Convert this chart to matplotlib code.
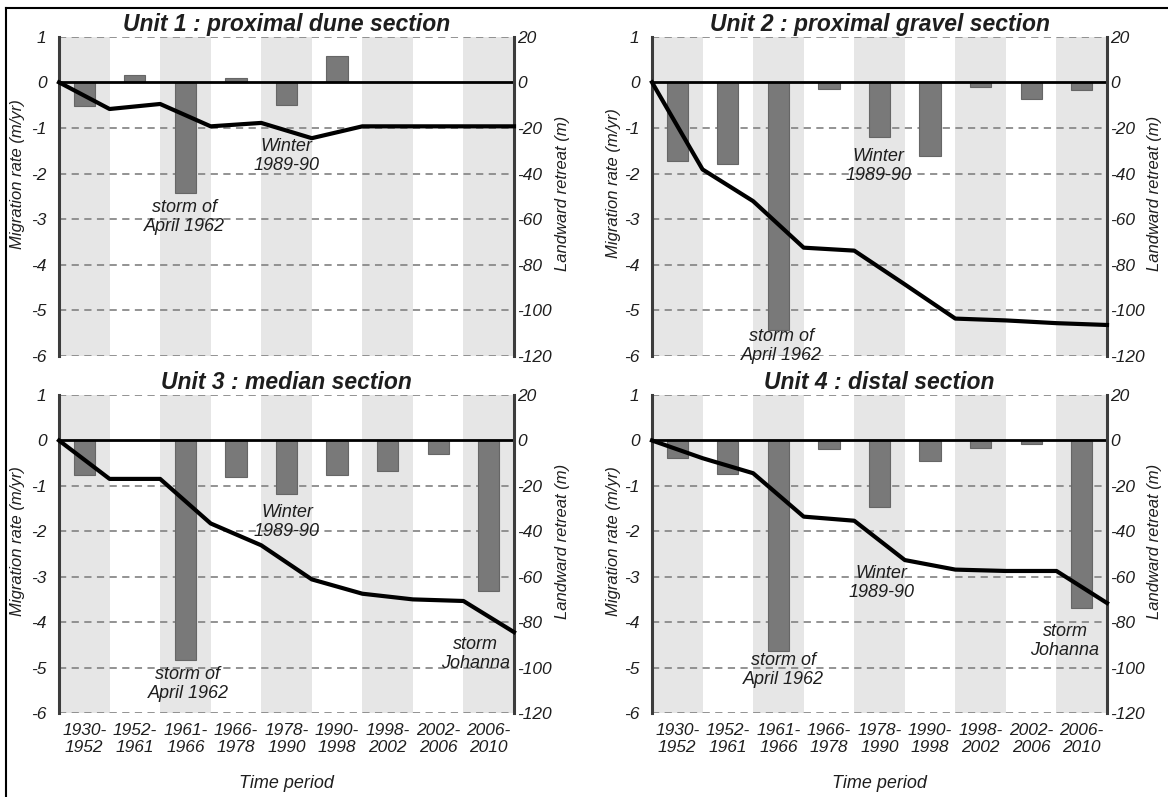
import matplotlib
matplotlib.use("Agg")
import matplotlib.pyplot as plt
from matplotlib.lines import Line2D
import numpy as np

plt.rcParams['font.family'] = ['Liberation Sans', 'DejaVu Sans']

periods = ["1930-\n1952", "1952-\n1961", "1961-\n1966", "1966-\n1978", "1978-\n1990",
           "1990-\n1998", "1998-\n2002", "2002-\n2006", "2006-\n2010"]

titles = ["Unit 1 : proximal dune section", "Unit 2 : proximal gravel section",
          "Unit 3 : median section", "Unit 4 : distal section"]

# Migration rate (m/yr) per period
rate_u1 = [-0.53, 0.17, -2.42, 0.09, -0.50, 0.58, 0.0, 0.0, 0.0]
rate_u2 = [-1.72, -1.80, -5.42, -0.14, -1.20, -1.62, -0.10, -0.36, -0.17]
rate_u3 = [-0.77, 0.0, -4.83, -0.81, -1.18, -0.77, -0.67, -0.29, -3.31]
rate_u4 = [-0.39, -0.74, -4.63, -0.19, -1.46, -0.45, -0.17, -0.07, -3.68]

# Cumulative landward retreat (m) at period boundaries
retreat_u1 = [0, -11.7, -9.5, -19.3, -17.8, -24.5, -19.3, -19.3, -19.3, -19.3]
retreat_u2 = [0, -38.2, -52.1, -72.5, -73.8, -88.6, -103.6, -104.4, -105.6, -106.4]
retreat_u3 = [0, -16.9, -16.9, -36.5, -46.1, -61.1, -67.4, -69.9, -70.6, -84.3]
retreat_u4 = [0, -7.8, -14.4, -33.5, -35.3, -52.6, -56.8, -57.4, -57.4, -71.5]

rates = [rate_u1, rate_u2, rate_u3, rate_u4]
retreats = [retreat_u1, retreat_u2, retreat_u3, retreat_u4]

left_ticks = [1, 0, -1, -2, -3, -4, -5, -6]
right_ticks = [20, 0, -20, -40, -60, -80, -100, -120]

# annotations: (text, x, y) in (category units, migration-rate units)
annots = [
    [("storm of\nApril 1962", 2.48, -2.96), ("Winter\n1989-90", 4.5, -1.62)],
    [("storm of\nApril 1962", 2.56, -5.78), ("Winter\n1989-90", 4.48, -1.84)],
    [("storm of\nApril 1962", 2.55, -5.35), ("Winter\n1989-90", 4.51, -1.79),
     ("storm\nJohanna", 8.23, -4.69)],
    [("storm of\nApril 1962", 2.6, -5.05), ("Winter\n1989-90", 4.54, -3.13),
     ("storm\nJohanna", 8.17, -4.40)],
]

W, H = 1168, 797
fig = plt.figure(figsize=(W / 100, H / 100), dpi=100)

# axes rectangles in pixels (left, top, right, bottom)
rects = [(59, 36.7, 514, 356), (652, 36.7, 1107, 356),
         (59, 395, 514, 713.3), (652, 395, 1107, 713.3)]
left_label_y = [0.57, 0.54, 0.54, 0.54]
right_label_y = [0.51, 0.51, 0.54, 0.54]
left_label_x = [-0.075, -0.068, -0.075, -0.068]
right_label_x = [1.09, 1.087, 1.09, 1.087]

fs = 12.5
band_color = "#e6e6e6"
bar_color = "#797979"
grid_color = "#8a8a8a"
spine_color = "#3c3c3c"
text_color = "#1e1e1e"

n = len(periods)
for k in range(4):
    l, t, r, b = rects[k]
    ax = fig.add_axes([l / W, 1 - b / H, (r - l) / W, (b - t) / H])
    ax.set_xlim(0, n)
    ax.set_ylim(-6, 1)
    ax.patch.set_alpha(0)
    for i in range(0, n, 2):
        ax.axvspan(i, i + 1, color=band_color, lw=0, zorder=0)
    for v in left_ticks:
        if v != 0:
            ax.axhline(v, color=grid_color, lw=1.3, ls=(0, (4, 3)), zorder=1)
    x = np.arange(n) + 0.5
    ax.bar(x, rates[k], width=0.42, color=bar_color, edgecolor="#666666", lw=0.8, zorder=2)
    ax.axhline(0, color="black", lw=2.0, zorder=3)

    ax2 = ax.twinx()
    ax2.set_ylim(-120, 20)
    ax2.plot(np.arange(n + 1), retreats[k], color="black", lw=3.0, solid_joinstyle="round",
             zorder=5, clip_on=False)

    for a in (ax, ax2):
        for s in ("top", "bottom"):
            a.spines[s].set_visible(False)
    ax.spines["right"].set_visible(False)
    ax.spines["left"].set_color(spine_color)
    ax.spines["left"].set_linewidth(2.2)
    ax2.spines["left"].set_visible(False)
    ax2.spines["right"].set_color(spine_color)
    ax2.spines["right"].set_linewidth(2.2)

    ax.set_yticks(left_ticks)
    ax.set_yticklabels([str(v) for v in left_ticks], fontstyle="italic", fontsize=fs, color=text_color)
    ax.tick_params(axis="y", length=0, pad=9)
    ax2.set_yticks(right_ticks)
    ax2.set_yticklabels([str(v) for v in right_ticks], fontstyle="italic", fontsize=fs, color=text_color)
    ax2.tick_params(axis="y", length=0, pad=2.5)

    if k >= 2:
        ax.set_xticks(x)
        ax.set_xticklabels(periods, fontstyle="italic", fontsize=fs, color=text_color)
        ax.tick_params(axis="x", length=0, pad=7)
        ax.set_xlabel("Time period", fontstyle="italic", fontsize=13, color=text_color, labelpad=14)
    else:
        ax.set_xticks([])

    ax.set_ylabel("Migration rate (m/yr)", fontstyle="italic", fontsize=12, color=text_color)
    ax.yaxis.set_label_coords(left_label_x[k], left_label_y[k])
    ax2.set_ylabel("Landward retreat (m)", fontstyle="italic", fontsize=12, color=text_color,
                   rotation=90)
    ax2.yaxis.set_label_coords(right_label_x[k], right_label_y[k])

    ax.set_title(titles[k], fontstyle="italic", fontweight="bold", fontsize=16.5, pad=4,
                 color=text_color)

    for txt, tx, ty in annots[k]:
        ax2.text(tx, ty * 20, txt, ha="center", va="center", fontstyle="italic",
                 fontsize=13, color=text_color, linespacing=1.15, zorder=6)

# figure frame (top and left edges)
fig.add_artist(Line2D([6 / W, 1], [1 - 8 / H, 1 - 8 / H], transform=fig.transFigure,
                      color="black", lw=1.5))
fig.add_artist(Line2D([6 / W, 6 / W], [0, 1 - 8 / H], transform=fig.transFigure,
                      color="black", lw=1.5))

fig.savefig("out.png", dpi=100)
